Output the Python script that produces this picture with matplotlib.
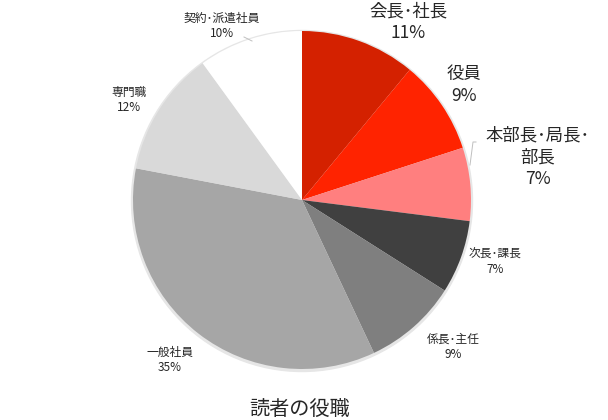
import matplotlib.pyplot as plt
import numpy as np

plt.rcParams['font.family'] = ['Noto Sans CJK JP', 'DejaVu Sans']

# data
roles = ['会長･社長', '役員', '本部長･局長･\n部長', '次長･課長', '係長･主任',
         '一般社員', '専門職', '契約･派遣社員']
shares = [11, 9, 7, 7, 9, 35, 12, 10]
colors = ['#D42100', '#FF2300', '#FF7F7F', '#404040', '#7F7F7F',
          '#A6A6A6', '#D9D9D9', '#FFFFFF']
title = '読者の役職'

# label layout (pixel coords from top-left) and font size
label_pos = [(408, 22), (464, 85), (538, 157), (495, 262), (453, 347),
             (170, 360), (129, 100), (222, 26)]
label_size = [12.5, 12.5, 12.5, 8.5, 8.5, 8.5, 8.5, 8.5]

W, H = 608, 420
fig = plt.figure(figsize=(W / 100, H / 100), dpi=100)
ax = fig.add_axes([0, 0, 1, 1])

cx, cy, r = 302, H - 200, 169

# faint shadow ring behind the pie
shadow = plt.Circle((cx, cy - 1), r + 1.5, color='#E6E6E6', zorder=0)
ax.add_patch(shadow)

ax.pie(shares, colors=colors, startangle=90, counterclock=False,
       center=(cx, cy), radius=r, frame=True,
       wedgeprops=dict(linewidth=0))
ax.set_xlim(0, W)
ax.set_ylim(0, H)
ax.set_aspect('equal')
ax.axis('off')

for name, val, (x, y), fs in zip(roles, shares, label_pos, label_size):
    ax.text(x, H - y, f'{name}\n{val}%', ha='center', va='center',
            fontsize=fs, color='#262626', linespacing=1.25)

# leader lines
ax.plot([244, 252], [H - 37, H - 41], color='#BFBFBF', lw=0.7)
ax.plot([476, 473, 470], [H - 142, H - 142, H - 165], color='#BFBFBF', lw=0.7)

ax.text(300, H - 410, title, ha='center', va='center', fontsize=14.5,
        color='#262626')

fig.savefig('out.png', dpi=100)
